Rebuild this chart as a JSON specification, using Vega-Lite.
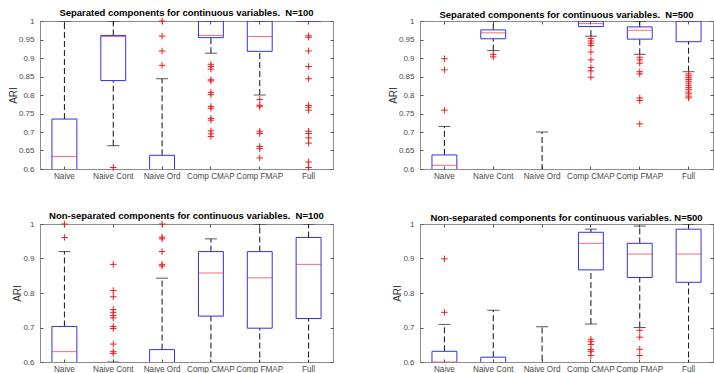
{
  "$schema": "https://vega.github.io/schema/vega-lite/v6.json",
  "padding": {"left": 7, "top": 7, "right": 0, "bottom": 0},
  "background": "white",
  "datasets": {
    "boxes": [
      {"panel": "S100", "cat": "Naive", "lo": 0.3, "q1": 0.5, "med": 0.634, "q3": 0.735, "hi": 1.0},
      {"panel": "S100", "cat": "Naive Cont", "lo": 0.663, "q1": 0.839, "med": 0.958, "q3": 0.961, "hi": 1.0},
      {"panel": "S100", "cat": "Naive Ord", "lo": 0.3, "q1": 0.45, "med": 0.52, "q3": 0.637, "hi": 0.844},
      {"panel": "S100", "cat": "Comp CMAP", "lo": 0.913, "q1": 0.955, "med": 0.961, "q3": 1.0, "hi": 1.0},
      {"panel": "S100", "cat": "Comp FMAP", "lo": 0.80, "q1": 0.918, "med": 0.958, "q3": 1.0, "hi": 1.0},
      {"panel": "S100", "cat": "Full", "lo": 1.0, "q1": 1.0, "med": 1.0, "q3": 1.0, "hi": 1.0},
      {"panel": "S500", "cat": "Naive", "lo": 0.3, "q1": 0.5, "med": 0.61, "q3": 0.638, "hi": 0.715},
      {"panel": "S500", "cat": "Naive Cont", "lo": 0.92, "q1": 0.952, "med": 0.968, "q3": 0.976, "hi": 1.0},
      {"panel": "S500", "cat": "Naive Ord", "lo": 0.3, "q1": 0.4, "med": 0.45, "q3": 0.5, "hi": 0.70},
      {"panel": "S500", "cat": "Comp CMAP", "lo": 0.959, "q1": 0.985, "med": 0.993, "q3": 1.0, "hi": 1.0},
      {"panel": "S500", "cat": "Comp FMAP", "lo": 0.910, "q1": 0.951, "med": 0.975, "q3": 0.984, "hi": 1.0},
      {"panel": "S500", "cat": "Full", "lo": 0.863, "q1": 0.944, "med": 1.0, "q3": 1.0, "hi": 1.0},
      {"panel": "N100", "cat": "Naive", "lo": 0.3, "q1": 0.5, "med": 0.63, "q3": 0.703, "hi": 0.92},
      {"panel": "N100", "cat": "Naive Cont", "lo": 0.3, "q1": 0.45, "med": 0.5, "q3": 0.55, "hi": 0.6},
      {"panel": "N100", "cat": "Naive Ord", "lo": 0.3, "q1": 0.45, "med": 0.52, "q3": 0.636, "hi": 0.843},
      {"panel": "N100", "cat": "Comp CMAP", "lo": 0.3, "q1": 0.733, "med": 0.858, "q3": 0.92, "hi": 0.957},
      {"panel": "N100", "cat": "Comp FMAP", "lo": 0.3, "q1": 0.698, "med": 0.844, "q3": 0.92, "hi": 1.0},
      {"panel": "N100", "cat": "Full", "lo": 0.3, "q1": 0.726, "med": 0.883, "q3": 0.961, "hi": 1.0},
      {"panel": "N500", "cat": "Naive", "lo": 0.3, "q1": 0.55, "med": 0.6, "q3": 0.631, "hi": 0.709},
      {"panel": "N500", "cat": "Naive Cont", "lo": 0.3, "q1": 0.45, "med": 0.5, "q3": 0.614, "hi": 0.75},
      {"panel": "N500", "cat": "Naive Ord", "lo": 0.3, "q1": 0.4, "med": 0.45, "q3": 0.5, "hi": 0.702},
      {"panel": "N500", "cat": "Comp CMAP", "lo": 0.71, "q1": 0.867, "med": 0.944, "q3": 0.976, "hi": 0.985},
      {"panel": "N500", "cat": "Comp FMAP", "lo": 0.70, "q1": 0.845, "med": 0.913, "q3": 0.944, "hi": 0.994},
      {"panel": "N500", "cat": "Full", "lo": 0.3, "q1": 0.831, "med": 0.913, "q3": 0.985, "hi": 1.0}
    ],
    "outliers": [
      {"panel": "S100", "cat": "Naive Cont", "v": 0.604},
      {"panel": "S100", "cat": "Naive Ord", "v": 1.0},
      {"panel": "S100", "cat": "Naive Ord", "v": 0.959},
      {"panel": "S100", "cat": "Naive Ord", "v": 0.919},
      {"panel": "S100", "cat": "Naive Ord", "v": 0.88},
      {"panel": "S100", "cat": "Comp CMAP", "v": 0.883},
      {"panel": "S100", "cat": "Comp CMAP", "v": 0.877},
      {"panel": "S100", "cat": "Comp CMAP", "v": 0.870},
      {"panel": "S100", "cat": "Comp CMAP", "v": 0.841},
      {"panel": "S100", "cat": "Comp CMAP", "v": 0.838},
      {"panel": "S100", "cat": "Comp CMAP", "v": 0.807},
      {"panel": "S100", "cat": "Comp CMAP", "v": 0.801},
      {"panel": "S100", "cat": "Comp CMAP", "v": 0.769},
      {"panel": "S100", "cat": "Comp CMAP", "v": 0.764},
      {"panel": "S100", "cat": "Comp CMAP", "v": 0.737},
      {"panel": "S100", "cat": "Comp CMAP", "v": 0.732},
      {"panel": "S100", "cat": "Comp CMAP", "v": 0.703},
      {"panel": "S100", "cat": "Comp CMAP", "v": 0.695},
      {"panel": "S100", "cat": "Comp CMAP", "v": 0.688},
      {"panel": "S100", "cat": "Comp FMAP", "v": 0.788},
      {"panel": "S100", "cat": "Comp FMAP", "v": 0.772},
      {"panel": "S100", "cat": "Comp FMAP", "v": 0.768},
      {"panel": "S100", "cat": "Comp FMAP", "v": 0.702},
      {"panel": "S100", "cat": "Comp FMAP", "v": 0.696},
      {"panel": "S100", "cat": "Comp FMAP", "v": 0.661},
      {"panel": "S100", "cat": "Comp FMAP", "v": 0.655},
      {"panel": "S100", "cat": "Comp FMAP", "v": 0.630},
      {"panel": "S100", "cat": "Full", "v": 0.960},
      {"panel": "S100", "cat": "Full", "v": 0.956},
      {"panel": "S100", "cat": "Full", "v": 0.919},
      {"panel": "S100", "cat": "Full", "v": 0.877},
      {"panel": "S100", "cat": "Full", "v": 0.844},
      {"panel": "S100", "cat": "Full", "v": 0.772},
      {"panel": "S100", "cat": "Full", "v": 0.767},
      {"panel": "S100", "cat": "Full", "v": 0.759},
      {"panel": "S100", "cat": "Full", "v": 0.702},
      {"panel": "S100", "cat": "Full", "v": 0.696},
      {"panel": "S100", "cat": "Full", "v": 0.684},
      {"panel": "S100", "cat": "Full", "v": 0.670},
      {"panel": "S100", "cat": "Full", "v": 0.619},
      {"panel": "S100", "cat": "Full", "v": 0.604},
      {"panel": "S500", "cat": "Naive", "v": 0.898},
      {"panel": "S500", "cat": "Naive", "v": 0.868},
      {"panel": "S500", "cat": "Naive", "v": 0.759},
      {"panel": "S500", "cat": "Naive Cont", "v": 0.910},
      {"panel": "S500", "cat": "Naive Cont", "v": 0.903},
      {"panel": "S500", "cat": "Comp CMAP", "v": 0.953},
      {"panel": "S500", "cat": "Comp CMAP", "v": 0.946},
      {"panel": "S500", "cat": "Comp CMAP", "v": 0.940},
      {"panel": "S500", "cat": "Comp CMAP", "v": 0.934},
      {"panel": "S500", "cat": "Comp CMAP", "v": 0.916},
      {"panel": "S500", "cat": "Comp CMAP", "v": 0.895},
      {"panel": "S500", "cat": "Comp CMAP", "v": 0.874},
      {"panel": "S500", "cat": "Comp CMAP", "v": 0.865},
      {"panel": "S500", "cat": "Comp CMAP", "v": 0.848},
      {"panel": "S500", "cat": "Comp FMAP", "v": 0.902},
      {"panel": "S500", "cat": "Comp FMAP", "v": 0.895},
      {"panel": "S500", "cat": "Comp FMAP", "v": 0.886},
      {"panel": "S500", "cat": "Comp FMAP", "v": 0.863},
      {"panel": "S500", "cat": "Comp FMAP", "v": 0.857},
      {"panel": "S500", "cat": "Comp FMAP", "v": 0.792},
      {"panel": "S500", "cat": "Comp FMAP", "v": 0.785},
      {"panel": "S500", "cat": "Comp FMAP", "v": 0.722},
      {"panel": "S500", "cat": "Full", "v": 0.857},
      {"panel": "S500", "cat": "Full", "v": 0.852},
      {"panel": "S500", "cat": "Full", "v": 0.847},
      {"panel": "S500", "cat": "Full", "v": 0.842},
      {"panel": "S500", "cat": "Full", "v": 0.837},
      {"panel": "S500", "cat": "Full", "v": 0.832},
      {"panel": "S500", "cat": "Full", "v": 0.826},
      {"panel": "S500", "cat": "Full", "v": 0.820},
      {"panel": "S500", "cat": "Full", "v": 0.815},
      {"panel": "S500", "cat": "Full", "v": 0.808},
      {"panel": "S500", "cat": "Full", "v": 0.803},
      {"panel": "S500", "cat": "Full", "v": 0.797},
      {"panel": "S500", "cat": "Full", "v": 0.792},
      {"panel": "N100", "cat": "Naive", "v": 1.0},
      {"panel": "N100", "cat": "Naive", "v": 0.961},
      {"panel": "N100", "cat": "Naive Cont", "v": 0.883},
      {"panel": "N100", "cat": "Naive Cont", "v": 0.807},
      {"panel": "N100", "cat": "Naive Cont", "v": 0.789},
      {"panel": "N100", "cat": "Naive Cont", "v": 0.752},
      {"panel": "N100", "cat": "Naive Cont", "v": 0.744},
      {"panel": "N100", "cat": "Naive Cont", "v": 0.735},
      {"panel": "N100", "cat": "Naive Cont", "v": 0.728},
      {"panel": "N100", "cat": "Naive Cont", "v": 0.703},
      {"panel": "N100", "cat": "Naive Cont", "v": 0.697},
      {"panel": "N100", "cat": "Naive Cont", "v": 0.652},
      {"panel": "N100", "cat": "Naive Cont", "v": 0.630},
      {"panel": "N100", "cat": "Naive Cont", "v": 0.625},
      {"panel": "N100", "cat": "Naive Ord", "v": 1.0},
      {"panel": "N100", "cat": "Naive Ord", "v": 0.962},
      {"panel": "N100", "cat": "Naive Ord", "v": 0.957},
      {"panel": "N100", "cat": "Naive Ord", "v": 0.920},
      {"panel": "N100", "cat": "Naive Ord", "v": 0.883},
      {"panel": "N100", "cat": "Naive Ord", "v": 0.878},
      {"panel": "N500", "cat": "Naive", "v": 0.899},
      {"panel": "N500", "cat": "Naive", "v": 0.744},
      {"panel": "N500", "cat": "Comp CMAP", "v": 0.666},
      {"panel": "N500", "cat": "Comp CMAP", "v": 0.659},
      {"panel": "N500", "cat": "Comp CMAP", "v": 0.651},
      {"panel": "N500", "cat": "Comp CMAP", "v": 0.636},
      {"panel": "N500", "cat": "Comp CMAP", "v": 0.631},
      {"panel": "N500", "cat": "Comp CMAP", "v": 0.619},
      {"panel": "N500", "cat": "Comp FMAP", "v": 0.692},
      {"panel": "N500", "cat": "Comp FMAP", "v": 0.672},
      {"panel": "N500", "cat": "Comp FMAP", "v": 0.637},
      {"panel": "N500", "cat": "Comp FMAP", "v": 0.619}
    ]
  },
  "columns": 2,
  "spacing": {"column": 53, "row": 30},
  "concat": [
    {
      "width": 293, "height": 148,
      "title": {"text": "Separated components for continuous variables. \u00a0N=100"},
      "resolve": {"axis": {"x": "independent", "y": "independent"}},
      "layer": [
        {"data": {"name": "boxes"}, "transform": [{"filter": "datum.panel === 'S100'"}],
         "mark": {"type": "rule", "strokeDash": [6, 3], "color": "#111111", "clip": true},
         "encoding": {
           "x": {"field": "cat", "type": "nominal", "scale": {"type": "band", "paddingInner": 0, "paddingOuter": 0, "domain": ["Naive", "Naive Cont", "Naive Ord", "Comp CMAP", "Comp FMAP", "Full"]}, "axis": {"orient": "bottom", "title": null, "labelAngle": 0, "labelPadding": 6, "labelOverlap": false}},
           "y": {"field": "q3", "type": "quantitative", "scale": {"domain": [0.6, 1], "nice": false, "zero": false}, "axis": {"orient": "left", "title": "ARI", "values": [0.6, 0.65, 0.7, 0.75, 0.8, 0.85, 0.9, 0.95, 1], "format": "~g", "labelPadding": 9, "titlePadding": 0}},
           "y2": {"field": "hi"}}},
        {"data": {"name": "boxes"}, "transform": [{"filter": "datum.panel === 'S100'"}],
         "mark": {"type": "rule", "strokeDash": [6, 3], "color": "#111111", "clip": true},
         "encoding": {
           "x": {"field": "cat", "type": "nominal", "axis": {"orient": "top", "title": null, "labels": false}},
           "y": {"field": "lo", "type": "quantitative", "axis": {"orient": "right", "title": null, "labels": false, "values": [0.6, 0.65, 0.7, 0.75, 0.8, 0.85, 0.9, 0.95, 1]}},
           "y2": {"field": "q1"}}},
        {"data": {"name": "boxes"}, "transform": [{"filter": "datum.panel === 'S100'"}],
         "mark": {"type": "tick", "color": "#111111", "size": 12, "thickness": 1, "clip": true},
         "encoding": {"x": {"field": "cat", "type": "nominal", "axis": null}, "y": {"field": "hi", "type": "quantitative", "axis": null}}},
        {"data": {"name": "boxes"}, "transform": [{"filter": "datum.panel === 'S100'"}],
         "mark": {"type": "tick", "color": "#111111", "size": 12, "thickness": 1, "clip": true},
         "encoding": {"x": {"field": "cat", "type": "nominal", "axis": null}, "y": {"field": "lo", "type": "quantitative", "axis": null}}},
        {"data": {"name": "boxes"}, "transform": [{"filter": "datum.panel === 'S100'"}],
         "mark": {"type": "bar", "filled": false, "color": "#3030f0", "strokeWidth": 1, "width": {"band": 0.51}, "clip": true},
         "encoding": {"x": {"field": "cat", "type": "nominal", "axis": null}, "y": {"field": "q1", "type": "quantitative", "axis": null}, "y2": {"field": "q3"}}},
        {"data": {"name": "boxes"}, "transform": [{"filter": "datum.panel === 'S100'"}],
         "mark": {"type": "tick", "color": "#f03030", "size": 25, "thickness": 1, "clip": true},
         "encoding": {"x": {"field": "cat", "type": "nominal", "axis": null}, "y": {"field": "med", "type": "quantitative", "axis": null}}},
        {"data": {"name": "outliers"}, "transform": [{"filter": "datum.panel === 'S100'"}],
         "mark": {"type": "point", "shape": "M-1,0H1M0,-1V1", "size": 42, "filled": false, "color": "#ee1c1c", "strokeWidth": 1, "opacity": 1},
         "encoding": {"x": {"field": "cat", "type": "nominal", "axis": null}, "y": {"field": "v", "type": "quantitative", "axis": null}}}
      ]
    },
    {
      "width": 293, "height": 148,
      "title": {"text": "Separated components for continuous variables. \u00a0N=500"},
      "resolve": {"axis": {"x": "independent", "y": "independent"}},
      "layer": [
        {"data": {"name": "boxes"}, "transform": [{"filter": "datum.panel === 'S500'"}],
         "mark": {"type": "rule", "strokeDash": [6, 3], "color": "#111111", "clip": true},
         "encoding": {
           "x": {"field": "cat", "type": "nominal", "scale": {"type": "band", "paddingInner": 0, "paddingOuter": 0, "domain": ["Naive", "Naive Cont", "Naive Ord", "Comp CMAP", "Comp FMAP", "Full"]}, "axis": {"orient": "bottom", "title": null, "labelAngle": 0, "labelPadding": 6, "labelOverlap": false}},
           "y": {"field": "q3", "type": "quantitative", "scale": {"domain": [0.6, 1], "nice": false, "zero": false}, "axis": {"orient": "left", "title": "ARI", "values": [0.6, 0.65, 0.7, 0.75, 0.8, 0.85, 0.9, 0.95, 1], "format": "~g", "labelPadding": 9, "titlePadding": 0}},
           "y2": {"field": "hi"}}},
        {"data": {"name": "boxes"}, "transform": [{"filter": "datum.panel === 'S500'"}],
         "mark": {"type": "rule", "strokeDash": [6, 3], "color": "#111111", "clip": true},
         "encoding": {
           "x": {"field": "cat", "type": "nominal", "axis": {"orient": "top", "title": null, "labels": false}},
           "y": {"field": "lo", "type": "quantitative", "axis": {"orient": "right", "title": null, "labels": false, "values": [0.6, 0.65, 0.7, 0.75, 0.8, 0.85, 0.9, 0.95, 1]}},
           "y2": {"field": "q1"}}},
        {"data": {"name": "boxes"}, "transform": [{"filter": "datum.panel === 'S500'"}],
         "mark": {"type": "tick", "color": "#111111", "size": 12, "thickness": 1, "clip": true},
         "encoding": {"x": {"field": "cat", "type": "nominal", "axis": null}, "y": {"field": "hi", "type": "quantitative", "axis": null}}},
        {"data": {"name": "boxes"}, "transform": [{"filter": "datum.panel === 'S500'"}],
         "mark": {"type": "tick", "color": "#111111", "size": 12, "thickness": 1, "clip": true},
         "encoding": {"x": {"field": "cat", "type": "nominal", "axis": null}, "y": {"field": "lo", "type": "quantitative", "axis": null}}},
        {"data": {"name": "boxes"}, "transform": [{"filter": "datum.panel === 'S500'"}],
         "mark": {"type": "bar", "filled": false, "color": "#3030f0", "strokeWidth": 1, "width": {"band": 0.51}, "clip": true},
         "encoding": {"x": {"field": "cat", "type": "nominal", "axis": null}, "y": {"field": "q1", "type": "quantitative", "axis": null}, "y2": {"field": "q3"}}},
        {"data": {"name": "boxes"}, "transform": [{"filter": "datum.panel === 'S500'"}],
         "mark": {"type": "tick", "color": "#f03030", "size": 25, "thickness": 1, "clip": true},
         "encoding": {"x": {"field": "cat", "type": "nominal", "axis": null}, "y": {"field": "med", "type": "quantitative", "axis": null}}},
        {"data": {"name": "outliers"}, "transform": [{"filter": "datum.panel === 'S500'"}],
         "mark": {"type": "point", "shape": "M-1,0H1M0,-1V1", "size": 42, "filled": false, "color": "#ee1c1c", "strokeWidth": 1, "opacity": 1},
         "encoding": {"x": {"field": "cat", "type": "nominal", "axis": null}, "y": {"field": "v", "type": "quantitative", "axis": null}}}
      ]
    },
    {
      "width": 293, "height": 138,
      "title": {"text": "Non-separated components for continuous variables. \u00a0N=100"},
      "resolve": {"axis": {"x": "independent", "y": "independent"}},
      "layer": [
        {"data": {"name": "boxes"}, "transform": [{"filter": "datum.panel === 'N100'"}],
         "mark": {"type": "rule", "strokeDash": [6, 3], "color": "#111111", "clip": true},
         "encoding": {
           "x": {"field": "cat", "type": "nominal", "scale": {"type": "band", "paddingInner": 0, "paddingOuter": 0, "domain": ["Naive", "Naive Cont", "Naive Ord", "Comp CMAP", "Comp FMAP", "Full"]}, "axis": {"orient": "bottom", "title": null, "labelAngle": 0, "labelPadding": 6, "labelOverlap": false}},
           "y": {"field": "q3", "type": "quantitative", "scale": {"domain": [0.6, 1], "nice": false, "zero": false}, "axis": {"orient": "left", "title": "ARI", "values": [0.6, 0.7, 0.8, 0.9, 1], "format": "~g", "labelPadding": 9, "titlePadding": 0}},
           "y2": {"field": "hi"}}},
        {"data": {"name": "boxes"}, "transform": [{"filter": "datum.panel === 'N100'"}],
         "mark": {"type": "rule", "strokeDash": [6, 3], "color": "#111111", "clip": true},
         "encoding": {
           "x": {"field": "cat", "type": "nominal", "axis": {"orient": "top", "title": null, "labels": false}},
           "y": {"field": "lo", "type": "quantitative", "axis": {"orient": "right", "title": null, "labels": false, "values": [0.6, 0.7, 0.8, 0.9, 1]}},
           "y2": {"field": "q1"}}},
        {"data": {"name": "boxes"}, "transform": [{"filter": "datum.panel === 'N100'"}],
         "mark": {"type": "tick", "color": "#111111", "size": 12, "thickness": 1, "clip": true},
         "encoding": {"x": {"field": "cat", "type": "nominal", "axis": null}, "y": {"field": "hi", "type": "quantitative", "axis": null}}},
        {"data": {"name": "boxes"}, "transform": [{"filter": "datum.panel === 'N100'"}],
         "mark": {"type": "tick", "color": "#111111", "size": 12, "thickness": 1, "clip": true},
         "encoding": {"x": {"field": "cat", "type": "nominal", "axis": null}, "y": {"field": "lo", "type": "quantitative", "axis": null}}},
        {"data": {"name": "boxes"}, "transform": [{"filter": "datum.panel === 'N100'"}],
         "mark": {"type": "bar", "filled": false, "color": "#3030f0", "strokeWidth": 1, "width": {"band": 0.51}, "clip": true},
         "encoding": {"x": {"field": "cat", "type": "nominal", "axis": null}, "y": {"field": "q1", "type": "quantitative", "axis": null}, "y2": {"field": "q3"}}},
        {"data": {"name": "boxes"}, "transform": [{"filter": "datum.panel === 'N100'"}],
         "mark": {"type": "tick", "color": "#f03030", "size": 25, "thickness": 1, "clip": true},
         "encoding": {"x": {"field": "cat", "type": "nominal", "axis": null}, "y": {"field": "med", "type": "quantitative", "axis": null}}},
        {"data": {"name": "outliers"}, "transform": [{"filter": "datum.panel === 'N100'"}],
         "mark": {"type": "point", "shape": "M-1,0H1M0,-1V1", "size": 42, "filled": false, "color": "#ee1c1c", "strokeWidth": 1, "opacity": 1},
         "encoding": {"x": {"field": "cat", "type": "nominal", "axis": null}, "y": {"field": "v", "type": "quantitative", "axis": null}}}
      ]
    },
    {
      "width": 293, "height": 138,
      "title": {"text": "Non-separated components for continuous variables. N=500"},
      "resolve": {"axis": {"x": "independent", "y": "independent"}},
      "layer": [
        {"data": {"name": "boxes"}, "transform": [{"filter": "datum.panel === 'N500'"}],
         "mark": {"type": "rule", "strokeDash": [6, 3], "color": "#111111", "clip": true},
         "encoding": {
           "x": {"field": "cat", "type": "nominal", "scale": {"type": "band", "paddingInner": 0, "paddingOuter": 0, "domain": ["Naive", "Naive Cont", "Naive Ord", "Comp CMAP", "Comp FMAP", "Full"]}, "axis": {"orient": "bottom", "title": null, "labelAngle": 0, "labelPadding": 6, "labelOverlap": false}},
           "y": {"field": "q3", "type": "quantitative", "scale": {"domain": [0.6, 1], "nice": false, "zero": false}, "axis": {"orient": "left", "title": "ARI", "values": [0.6, 0.7, 0.8, 0.9, 1], "format": "~g", "labelPadding": 9, "titlePadding": 0}},
           "y2": {"field": "hi"}}},
        {"data": {"name": "boxes"}, "transform": [{"filter": "datum.panel === 'N500'"}],
         "mark": {"type": "rule", "strokeDash": [6, 3], "color": "#111111", "clip": true},
         "encoding": {
           "x": {"field": "cat", "type": "nominal", "axis": {"orient": "top", "title": null, "labels": false}},
           "y": {"field": "lo", "type": "quantitative", "axis": {"orient": "right", "title": null, "labels": false, "values": [0.6, 0.7, 0.8, 0.9, 1]}},
           "y2": {"field": "q1"}}},
        {"data": {"name": "boxes"}, "transform": [{"filter": "datum.panel === 'N500'"}],
         "mark": {"type": "tick", "color": "#111111", "size": 12, "thickness": 1, "clip": true},
         "encoding": {"x": {"field": "cat", "type": "nominal", "axis": null}, "y": {"field": "hi", "type": "quantitative", "axis": null}}},
        {"data": {"name": "boxes"}, "transform": [{"filter": "datum.panel === 'N500'"}],
         "mark": {"type": "tick", "color": "#111111", "size": 12, "thickness": 1, "clip": true},
         "encoding": {"x": {"field": "cat", "type": "nominal", "axis": null}, "y": {"field": "lo", "type": "quantitative", "axis": null}}},
        {"data": {"name": "boxes"}, "transform": [{"filter": "datum.panel === 'N500'"}],
         "mark": {"type": "bar", "filled": false, "color": "#3030f0", "strokeWidth": 1, "width": {"band": 0.51}, "clip": true},
         "encoding": {"x": {"field": "cat", "type": "nominal", "axis": null}, "y": {"field": "q1", "type": "quantitative", "axis": null}, "y2": {"field": "q3"}}},
        {"data": {"name": "boxes"}, "transform": [{"filter": "datum.panel === 'N500'"}],
         "mark": {"type": "tick", "color": "#f03030", "size": 25, "thickness": 1, "clip": true},
         "encoding": {"x": {"field": "cat", "type": "nominal", "axis": null}, "y": {"field": "med", "type": "quantitative", "axis": null}}},
        {"data": {"name": "outliers"}, "transform": [{"filter": "datum.panel === 'N500'"}],
         "mark": {"type": "point", "shape": "M-1,0H1M0,-1V1", "size": 42, "filled": false, "color": "#ee1c1c", "strokeWidth": 1, "opacity": 1},
         "encoding": {"x": {"field": "cat", "type": "nominal", "axis": null}, "y": {"field": "v", "type": "quantitative", "axis": null}}}
      ]
    }
  ],
  "config": {
    "view": {"stroke": "#8c8c8c", "strokeWidth": 1},
    "axis": {"grid": false, "domain": false, "labelFont": "Liberation Sans", "labelFontSize": 8, "labelColor": "#4a4a4a", "tickColor": "#555555", "tickSize": -3, "titleFont": "Liberation Sans", "titleFontSize": 10, "titleFontWeight": "normal", "titleColor": "#333333"},
    "axisX": {"labelFontSize": 8.2},
    "title": {"font": "Liberation Sans", "fontSize": 9.5, "fontWeight": "bold", "color": "#000000", "offset": -2, "anchor": "middle"}
  }
}
